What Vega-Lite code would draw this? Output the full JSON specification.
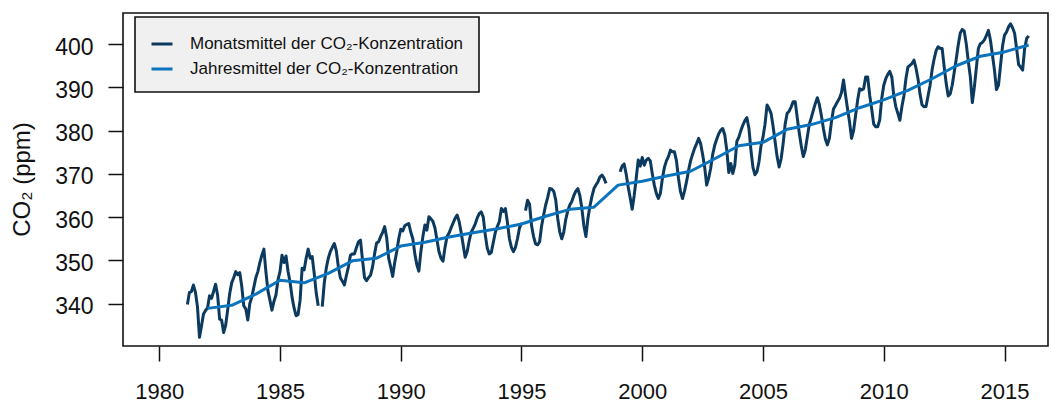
{
  "$schema": "https://vega.github.io/schema/vega-lite/v6.json",
  "width": 925,
  "height": 333,
  "autosize": "none",
  "padding": {"left": 123, "top": 13, "right": 4, "bottom": 58},
  "background": "white",
  "config": {
    "font": "Liberation Sans",
    "view": {"stroke": "#111", "strokeWidth": 1.6},
    "axis": {"grid": false, "domain": false, "tickColor": "#111", "tickWidth": 1.5, "labelColor": "#111", "labelFont": "Liberation Sans"},
    "legend": {"strokeWidth": 1.6}
  },
  "datasets": {
    "monthly": [
      {"t":1981.167,"v":339.8},{"t":1981.25,"v":342.6},{"t":1981.333,"v":342.8},{"t":1981.417,"v":344.3},{"t":1981.5,"v":342.6},{"t":1981.583,"v":339.3},{"t":1981.667,"v":332.2},{"t":1981.75,"v":334.8},{"t":1981.833,"v":337.6},{"t":1981.917,"v":338.4},
      {"t":1982.0,"v":339.0},{"t":1982.083,"v":341.8},{"t":1982.167,"v":341.2},{"t":1982.25,"v":342.8},{"t":1982.333,"v":344.5},{"t":1982.417,"v":342.0},{"t":1982.5,"v":336.4},{"t":1982.583,"v":336.2},{"t":1982.667,"v":333.3},{"t":1982.75,"v":335.0},{"t":1982.833,"v":338.5},{"t":1982.917,"v":342.3},
      {"t":1983.0,"v":344.8},{"t":1983.083,"v":346.0},{"t":1983.167,"v":347.4},{"t":1983.25,"v":346.7},{"t":1983.333,"v":347.2},{"t":1983.417,"v":344.0},{"t":1983.5,"v":339.5},{"t":1983.583,"v":338.8},{"t":1983.667,"v":336.2},{"t":1983.75,"v":340.0},{"t":1983.833,"v":341.5},{"t":1983.917,"v":343.8},
      {"t":1984.0,"v":346.0},{"t":1984.083,"v":347.4},{"t":1984.167,"v":349.5},{"t":1984.25,"v":351.2},{"t":1984.333,"v":352.6},{"t":1984.417,"v":347.4},{"t":1984.5,"v":343.0},{"t":1984.583,"v":340.8},{"t":1984.667,"v":338.5},{"t":1984.75,"v":340.5},{"t":1984.833,"v":342.0},{"t":1984.917,"v":345.5},
      {"t":1985.0,"v":347.4},{"t":1985.083,"v":351.2},{"t":1985.167,"v":349.5},{"t":1985.25,"v":351.0},{"t":1985.333,"v":347.5},{"t":1985.417,"v":345.0},{"t":1985.5,"v":341.5},{"t":1985.583,"v":339.0},{"t":1985.667,"v":337.2},{"t":1985.75,"v":337.5},{"t":1985.833,"v":340.8},{"t":1985.917,"v":348.2},
      {"t":1986.0,"v":347.8},{"t":1986.083,"v":350.5},{"t":1986.167,"v":352.6},{"t":1986.25,"v":350.5},{"t":1986.333,"v":350.9},{"t":1986.417,"v":347.0},{"t":1986.5,"v":342.5},{"t":1986.583,"v":339.5},{"t":1986.667,"v":null},{"t":1986.75,"v":339.3},{"t":1986.833,"v":344.7},{"t":1986.917,"v":348.2},
      {"t":1987.0,"v":350.5},{"t":1987.083,"v":352.0},{"t":1987.167,"v":353.0},{"t":1987.25,"v":353.9},{"t":1987.333,"v":352.2},{"t":1987.417,"v":348.5},{"t":1987.5,"v":346.0},{"t":1987.583,"v":345.2},{"t":1987.667,"v":344.3},{"t":1987.75,"v":346.5},{"t":1987.833,"v":348.5},{"t":1987.917,"v":351.2},
      {"t":1988.0,"v":351.5},{"t":1988.083,"v":351.5},{"t":1988.167,"v":353.0},{"t":1988.25,"v":354.3},{"t":1988.333,"v":354.7},{"t":1988.417,"v":350.1},{"t":1988.5,"v":346.0},{"t":1988.583,"v":345.3},{"t":1988.667,"v":346.0},{"t":1988.75,"v":346.6},{"t":1988.833,"v":348.5},{"t":1988.917,"v":351.5},
      {"t":1989.0,"v":354.0},{"t":1989.083,"v":354.3},{"t":1989.167,"v":355.5},{"t":1989.25,"v":356.5},{"t":1989.333,"v":357.8},{"t":1989.417,"v":355.3},{"t":1989.5,"v":350.5},{"t":1989.583,"v":348.5},{"t":1989.667,"v":346.3},{"t":1989.75,"v":349.5},{"t":1989.833,"v":352.0},{"t":1989.917,"v":355.0},
      {"t":1990.0,"v":357.2},{"t":1990.083,"v":356.8},{"t":1990.167,"v":358.0},{"t":1990.25,"v":358.3},{"t":1990.333,"v":358.5},{"t":1990.417,"v":356.5},{"t":1990.5,"v":355.0},{"t":1990.583,"v":351.5},{"t":1990.667,"v":349.0},{"t":1990.75,"v":347.5},{"t":1990.833,"v":352.0},{"t":1990.917,"v":355.5},
      {"t":1991.0,"v":358.2},{"t":1991.083,"v":357.0},{"t":1991.167,"v":360.1},{"t":1991.25,"v":359.6},{"t":1991.333,"v":359.0},{"t":1991.417,"v":357.5},{"t":1991.5,"v":354.7},{"t":1991.583,"v":352.0},{"t":1991.667,"v":350.5},{"t":1991.75,"v":349.8},{"t":1991.833,"v":353.0},{"t":1991.917,"v":355.5},
      {"t":1992.0,"v":356.3},{"t":1992.083,"v":357.5},{"t":1992.167,"v":358.6},{"t":1992.25,"v":359.7},{"t":1992.333,"v":360.5},{"t":1992.417,"v":359.0},{"t":1992.5,"v":356.5},{"t":1992.583,"v":353.6},{"t":1992.667,"v":350.7},{"t":1992.75,"v":352.0},{"t":1992.833,"v":354.5},{"t":1992.917,"v":356.5},
      {"t":1993.0,"v":357.4},{"t":1993.083,"v":358.4},{"t":1993.167,"v":359.8},{"t":1993.25,"v":360.8},{"t":1993.333,"v":361.2},{"t":1993.417,"v":360.0},{"t":1993.5,"v":355.9},{"t":1993.583,"v":352.8},{"t":1993.667,"v":351.5},{"t":1993.75,"v":351.8},{"t":1993.833,"v":354.2},{"t":1993.917,"v":356.5},
      {"t":1994.0,"v":357.8},{"t":1994.083,"v":359.0},{"t":1994.167,"v":362.0},{"t":1994.25,"v":361.3},{"t":1994.333,"v":362.0},{"t":1994.417,"v":358.8},{"t":1994.5,"v":355.0},{"t":1994.583,"v":353.0},{"t":1994.667,"v":352.0},{"t":1994.75,"v":353.0},{"t":1994.833,"v":355.0},{"t":1994.917,"v":357.5},
      {"t":1995.0,"v":358.6},{"t":1995.083,"v":null},{"t":1995.167,"v":361.5},{"t":1995.25,"v":363.9},{"t":1995.333,"v":363.0},{"t":1995.417,"v":358.0},{"t":1995.5,"v":355.5},{"t":1995.583,"v":353.8},{"t":1995.667,"v":353.6},{"t":1995.75,"v":354.3},{"t":1995.833,"v":358.0},{"t":1995.917,"v":360.5},
      {"t":1996.0,"v":362.8},{"t":1996.083,"v":364.5},{"t":1996.167,"v":366.6},{"t":1996.25,"v":366.5},{"t":1996.333,"v":366.0},{"t":1996.417,"v":364.0},{"t":1996.5,"v":359.7},{"t":1996.583,"v":356.6},{"t":1996.667,"v":355.0},{"t":1996.75,"v":356.5},{"t":1996.833,"v":359.5},{"t":1996.917,"v":361.5},
      {"t":1997.0,"v":362.8},{"t":1997.083,"v":363.6},{"t":1997.167,"v":365.0},{"t":1997.25,"v":366.0},{"t":1997.333,"v":366.6},{"t":1997.417,"v":365.0},{"t":1997.5,"v":362.0},{"t":1997.583,"v":358.0},{"t":1997.667,"v":355.5},{"t":1997.75,"v":359.7},{"t":1997.833,"v":362.5},{"t":1997.917,"v":364.8},
      {"t":1998.0,"v":366.6},{"t":1998.083,"v":367.4},{"t":1998.167,"v":368.2},{"t":1998.25,"v":369.3},{"t":1998.333,"v":369.7},{"t":1998.417,"v":369.0},{"t":1998.5,"v":367.8},{"t":1998.583,"v":null},{"t":1998.667,"v":null},{"t":1998.75,"v":null},{"t":1998.833,"v":null},{"t":1998.917,"v":null},
      {"t":1999.0,"v":null},{"t":1999.083,"v":370.5},{"t":1999.167,"v":371.8},{"t":1999.25,"v":372.3},{"t":1999.333,"v":370.0},{"t":1999.417,"v":367.0},{"t":1999.5,"v":364.5},{"t":1999.583,"v":361.8},{"t":1999.667,"v":365.0},{"t":1999.75,"v":369.0},{"t":1999.833,"v":373.2},{"t":1999.917,"v":371.8},
      {"t":2000.0,"v":373.8},{"t":2000.083,"v":372.0},{"t":2000.167,"v":373.2},{"t":2000.25,"v":373.6},{"t":2000.333,"v":373.0},{"t":2000.417,"v":370.0},{"t":2000.5,"v":367.4},{"t":2000.583,"v":365.5},{"t":2000.667,"v":364.3},{"t":2000.75,"v":365.5},{"t":2000.833,"v":368.9},{"t":2000.917,"v":371.5},
      {"t":2001.0,"v":373.0},{"t":2001.083,"v":374.0},{"t":2001.167,"v":375.5},{"t":2001.25,"v":375.1},{"t":2001.333,"v":375.1},{"t":2001.417,"v":373.0},{"t":2001.5,"v":369.0},{"t":2001.583,"v":365.9},{"t":2001.667,"v":364.3},{"t":2001.75,"v":366.0},{"t":2001.833,"v":368.2},{"t":2001.917,"v":370.8},
      {"t":2002.0,"v":373.0},{"t":2002.083,"v":374.5},{"t":2002.167,"v":375.9},{"t":2002.25,"v":377.0},{"t":2002.333,"v":378.2},{"t":2002.417,"v":377.0},{"t":2002.5,"v":374.5},{"t":2002.583,"v":371.6},{"t":2002.667,"v":367.4},{"t":2002.75,"v":369.0},{"t":2002.833,"v":371.3},{"t":2002.917,"v":374.5},
      {"t":2003.0,"v":376.6},{"t":2003.083,"v":378.0},{"t":2003.167,"v":379.3},{"t":2003.25,"v":380.1},{"t":2003.333,"v":380.5},{"t":2003.417,"v":379.0},{"t":2003.5,"v":375.5},{"t":2003.583,"v":370.3},{"t":2003.667,"v":372.4},{"t":2003.75,"v":370.1},{"t":2003.833,"v":372.0},{"t":2003.917,"v":377.5},
      {"t":2004.0,"v":378.5},{"t":2004.083,"v":380.0},{"t":2004.167,"v":381.3},{"t":2004.25,"v":382.3},{"t":2004.333,"v":383.0},{"t":2004.417,"v":380.5},{"t":2004.5,"v":375.5},{"t":2004.583,"v":371.5},{"t":2004.667,"v":369.8},{"t":2004.75,"v":370.5},{"t":2004.833,"v":372.8},{"t":2004.917,"v":376.5},
      {"t":2005.0,"v":378.5},{"t":2005.083,"v":381.5},{"t":2005.167,"v":385.9},{"t":2005.25,"v":385.1},{"t":2005.333,"v":384.0},{"t":2005.417,"v":381.0},{"t":2005.5,"v":377.5},{"t":2005.583,"v":374.0},{"t":2005.667,"v":371.6},{"t":2005.75,"v":373.5},{"t":2005.833,"v":377.0},{"t":2005.917,"v":381.5},
      {"t":2006.0,"v":384.0},{"t":2006.083,"v":384.5},{"t":2006.167,"v":385.5},{"t":2006.25,"v":386.7},{"t":2006.333,"v":386.7},{"t":2006.417,"v":383.0},{"t":2006.5,"v":379.5},{"t":2006.583,"v":376.5},{"t":2006.667,"v":374.0},{"t":2006.75,"v":375.5},{"t":2006.833,"v":378.5},{"t":2006.917,"v":381.5},
      {"t":2007.0,"v":383.0},{"t":2007.083,"v":384.7},{"t":2007.167,"v":386.3},{"t":2007.25,"v":387.6},{"t":2007.333,"v":386.0},{"t":2007.417,"v":383.5},{"t":2007.5,"v":380.5},{"t":2007.583,"v":378.0},{"t":2007.667,"v":376.7},{"t":2007.75,"v":378.3},{"t":2007.833,"v":382.0},{"t":2007.917,"v":385.0},
      {"t":2008.0,"v":385.8},{"t":2008.083,"v":386.7},{"t":2008.167,"v":387.5},{"t":2008.25,"v":388.8},{"t":2008.333,"v":391.7},{"t":2008.417,"v":388.2},{"t":2008.5,"v":385.0},{"t":2008.583,"v":382.0},{"t":2008.667,"v":378.2},{"t":2008.75,"v":380.0},{"t":2008.833,"v":383.5},{"t":2008.917,"v":387.0},
      {"t":2009.0,"v":389.7},{"t":2009.083,"v":389.4},{"t":2009.167,"v":389.7},{"t":2009.25,"v":392.4},{"t":2009.333,"v":392.4},{"t":2009.417,"v":388.2},{"t":2009.5,"v":385.0},{"t":2009.583,"v":381.5},{"t":2009.667,"v":380.9},{"t":2009.75,"v":380.9},{"t":2009.833,"v":382.5},{"t":2009.917,"v":387.5},
      {"t":2010.0,"v":390.5},{"t":2010.083,"v":392.0},{"t":2010.167,"v":393.0},{"t":2010.25,"v":393.7},{"t":2010.333,"v":392.4},{"t":2010.417,"v":388.0},{"t":2010.5,"v":385.5},{"t":2010.583,"v":384.0},{"t":2010.667,"v":382.4},{"t":2010.75,"v":385.5},{"t":2010.833,"v":388.0},{"t":2010.917,"v":392.0},
      {"t":2011.0,"v":394.7},{"t":2011.083,"v":395.1},{"t":2011.167,"v":395.5},{"t":2011.25,"v":396.3},{"t":2011.333,"v":394.5},{"t":2011.417,"v":392.0},{"t":2011.5,"v":388.5},{"t":2011.583,"v":386.0},{"t":2011.667,"v":385.5},{"t":2011.75,"v":385.6},{"t":2011.833,"v":388.0},{"t":2011.917,"v":390.5},
      {"t":2012.0,"v":394.0},{"t":2012.083,"v":396.5},{"t":2012.167,"v":398.5},{"t":2012.25,"v":399.4},{"t":2012.333,"v":399.0},{"t":2012.417,"v":399.0},{"t":2012.5,"v":394.8},{"t":2012.583,"v":391.0},{"t":2012.667,"v":388.0},{"t":2012.75,"v":388.5},{"t":2012.833,"v":390.5},{"t":2012.917,"v":393.5},
      {"t":2013.0,"v":396.5},{"t":2013.083,"v":399.8},{"t":2013.167,"v":402.6},{"t":2013.25,"v":403.4},{"t":2013.333,"v":403.0},{"t":2013.417,"v":400.0},{"t":2013.5,"v":396.0},{"t":2013.583,"v":392.5},{"t":2013.667,"v":386.5},{"t":2013.75,"v":390.0},{"t":2013.833,"v":394.5},{"t":2013.917,"v":399.0},
      {"t":2014.0,"v":400.1},{"t":2014.083,"v":400.4},{"t":2014.167,"v":401.0},{"t":2014.25,"v":402.0},{"t":2014.333,"v":403.2},{"t":2014.417,"v":400.9},{"t":2014.5,"v":397.5},{"t":2014.583,"v":394.0},{"t":2014.667,"v":389.5},{"t":2014.75,"v":390.5},{"t":2014.833,"v":395.0},{"t":2014.917,"v":399.5},
      {"t":2015.0,"v":402.1},{"t":2015.083,"v":402.8},{"t":2015.167,"v":404.0},{"t":2015.25,"v":404.7},{"t":2015.333,"v":403.8},{"t":2015.417,"v":402.5},{"t":2015.5,"v":399.0},{"t":2015.583,"v":395.3},{"t":2015.667,"v":394.7},{"t":2015.75,"v":394.0},{"t":2015.833,"v":399.0},{"t":2015.917,"v":401.3},
      {"t":2016.0,"v":401.9}
    ],
    "annual": [
      {"t":1982,"v":338.9},{"t":1983,"v":339.6},{"t":1984,"v":342.2},{"t":1985,"v":345.4},{"t":1986,"v":344.8},{"t":1987,"v":347.0},{"t":1988,"v":349.9},{"t":1989,"v":350.5},{"t":1990,"v":353.3},{"t":1991,"v":354.2},{"t":1992,"v":355.4},{"t":1993,"v":356.4},{"t":1994,"v":357.3},{"t":1995,"v":358.4},{"t":1996,"v":360.2},{"t":1997,"v":361.8},{"t":1998,"v":362.3},{"t":1999,"v":367.4},{"t":2000,"v":368.3},{"t":2001,"v":369.5},{"t":2002,"v":370.6},{"t":2003,"v":373.5},{"t":2004,"v":376.5},{"t":2005,"v":377.3},{"t":2006,"v":380.3},{"t":2007,"v":381.4},{"t":2008,"v":383.0},{"t":2009,"v":385.3},{"t":2010,"v":387.1},{"t":2011,"v":389.3},{"t":2012,"v":392.0},{"t":2013,"v":395.0},{"t":2014,"v":397.2},{"t":2015,"v":398.2},{"t":2016,"v":399.8}
    ]
  },
  "encoding": {
    "x": {"field": "t", "type": "quantitative",
      "scale": {"domain": [1978.5, 2016.8], "nice": false, "zero": false},
      "axis": {"title": null, "values": [1980,1985,1990,1995,2000,2005,2010,2015], "format": "d", "tickSize": 15, "labelPadding": 37, "labelBaseline": "alphabetic", "labelFontSize": 22, "labelFlush": false}},
    "y": {"field": "v", "type": "quantitative",
      "scale": {"domain": [330.2, 407.2], "nice": false, "zero": false},
      "axis": {"title": "CO₂ (ppm)", "values": [340,350,360,370,380,390,400], "tickSize": 15, "labelPadding": 15, "labelFontSize": 23, "labelOffset": 3,
        "titleFontSize": 24, "titleFontWeight": "normal", "titleColor": "#111", "titleX": -101, "titleY": 166, "titleAngle": -90, "titleBaseline": "middle", "titleAlign": "center"}},
    "color": {
      "scale": {"domain": ["Monatsmittel der CO₂-Konzentration", "Jahresmittel der CO₂-Konzentration"], "range": ["#0b3a5e", "#0b74bd"]},
      "legend": {"title": null, "orient": "none", "legendX": 12, "legendY": 4,
        "symbolType": "stroke", "symbolSize": 441, "symbolStrokeWidth": 3,
        "labelFontSize": 17, "labelLimit": 600, "labelColor": "#111", "labelOffset": 16, "rowPadding": 5,
        "padding": 15, "fillColor": "#f0f0f0", "strokeColor": "#111"}
    }
  },
  "layer": [
    {"data": {"name": "monthly"}, "mark": {"type": "line", "strokeWidth": 3, "strokeJoin": "round", "invalid": "break-paths-filter-domains"},
     "encoding": {"color": {"datum": "Monatsmittel der CO₂-Konzentration"}}},
    {"data": {"name": "annual"}, "mark": {"type": "line", "strokeWidth": 3, "strokeJoin": "round"},
     "encoding": {"color": {"datum": "Jahresmittel der CO₂-Konzentration"}}}
  ]
}
